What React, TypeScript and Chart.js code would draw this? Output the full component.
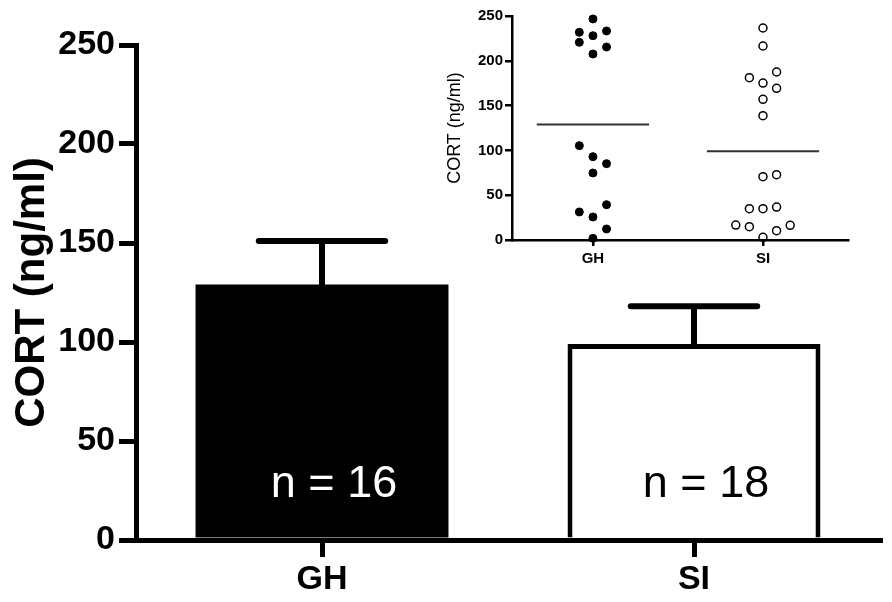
import React, { useEffect, useRef } from 'react'
import { Chart, registerables } from 'chart.js'

Chart.register(...registerables)

// groups and summary values
const categories = ['GH', 'SI']
const meanValues = [129, 99]
const semValues = [22, 19]
const yTicks = [0, 50, 100, 150, 200, 250]

// individual animals (inset), with the dot column each one sits in
const ghValues = [246.7, 231.8, 228, 233.3, 220.6, 215.4, 207.6, 105.3, 93, 85.2, 74.8, 39.4, 31.3, 25.7, 12.3, 1.9]
const ghSlots = [0, -1, 0, 1, -1, 1, 0, -1, 0, 1, 0, 1, -1, 0, 1, 0]
const siValues = [236.6, 216.5, 181.2, 187.5, 175.2, 169.3, 157, 138.8, 70.7, 72.9, 35, 35, 36.8, 16.7, 14.9, 16.4, 10.4, 3]
const siSlots = [0, 0, -1, 1, 0, 1, 0, 0, 0, 1, -1, 0, 1, -2, -1, 2, 1, 0]

const FONT = "'Liberation Sans', Arial, Helvetica, sans-serif"
const SLOT = 0.08
const MEAN_HALF = 0.33

const groups = [ghValues, siValues]

const errorBars = {
	id: 'errorBars',
	afterDatasetsDraw(chart: any) {
		const meta = chart.getDatasetMeta(0)
		const y = chart.scales.y
		const ctx = chart.ctx
		ctx.save()
		ctx.strokeStyle = '#000'
		ctx.lineWidth = 6
		ctx.lineCap = 'round'
		meta.data.forEach((bar: any, i: number) => {
			const base = y.getPixelForValue(meanValues[i])
			const top = y.getPixelForValue(meanValues[i] + semValues[i])
			const half = bar.width / 4
			ctx.beginPath()
			ctx.moveTo(bar.x, base)
			ctx.lineTo(bar.x, top)
			ctx.moveTo(bar.x - half, top)
			ctx.lineTo(bar.x + half, top)
			ctx.stroke()
		})
		ctx.restore()
	},
}

const countLabels = {
	id: 'countLabels',
	afterDatasetsDraw(chart: any) {
		const meta = chart.getDatasetMeta(0)
		const ctx = chart.ctx
		ctx.save()
		ctx.font = `45px ${FONT}`
		ctx.textAlign = 'center'
		ctx.textBaseline = 'middle'
		meta.data.forEach((bar: any, i: number) => {
			ctx.fillStyle = i === 0 ? '#fff' : '#000'
			ctx.fillText(`n = ${groups[i].length}`, bar.x + 12, chart.chartArea.bottom - 55)
		})
		ctx.restore()
	},
}

const MainBars: React.FC = () => {
	const chartRef = useRef<HTMLCanvasElement>(null)

	useEffect(() => {
		if (!chartRef.current) return
		const bold34 = { family: FONT, size: 34, weight: 'bold' as const }
		const chart = new Chart(chartRef.current, {
			type: 'bar',
			data: {
				labels: categories,
				datasets: [
					{
						data: meanValues,
						backgroundColor: ['#000', '#fff'],
						borderColor: '#000',
						borderWidth: [0, 5],
						barPercentage: 0.68,
						categoryPercentage: 1,
					},
				],
			},
			options: {
				responsive: false,
				animation: false,
				layout: { padding: { top: 45, right: 12, left: 0, bottom: 0 } },
				plugins: { legend: { display: false }, tooltip: { enabled: false } },
				scales: {
					x: {
						offset: true,
						grid: { offset: false, drawOnChartArea: false, tickLength: 17, lineWidth: 5, color: '#000' },
						border: { width: 5, color: '#000', z: 1 },
						ticks: { font: bold34, color: '#000', padding: 2, maxRotation: 0 },
						afterFit: (s: any) => {
							s.height = 62
						},
					},
					y: {
						min: yTicks[0],
						max: yTicks[yTicks.length - 1],
						afterBuildTicks: (s: any) => {
							s.ticks = yTicks.map((v) => ({ value: v }))
						},
						ticks: { font: bold34, color: '#000', padding: 4 },
						grid: { drawOnChartArea: false, tickLength: 17, lineWidth: 5, color: '#000' },
						border: { width: 5, color: '#000' },
						title: {
							display: true,
							text: 'CORT (ng/ml)',
							font: { family: FONT, size: 42, weight: 'bold' },
							color: '#000',
							padding: { top: 7, bottom: 0 },
						},
						afterFit: (s: any) => {
							s.width = 136
						},
					},
				},
			},
			plugins: [errorBars, countLabels],
		})
		return () => {
			chart.destroy()
		}
	}, [])

	return <canvas ref={chartRef} width={892} height={602} style={{ display: 'block' }} />
}

const InsetScatter: React.FC = () => {
	const chartRef = useRef<HTMLCanvasElement>(null)

	useEffect(() => {
		if (!chartRef.current) return
		const bold15 = { family: FONT, size: 15, weight: 'bold' as const }
		const meanLine = (i: number) => ({
			type: 'line' as const,
			data: [
				{ x: i + 1 - MEAN_HALF, y: meanValues[i] },
				{ x: i + 1 + MEAN_HALF, y: meanValues[i] },
			],
			borderColor: '#333',
			borderWidth: 2,
			pointRadius: 0,
			showLine: true,
		})
		const chart = new Chart(chartRef.current, {
			type: 'scatter',
			data: {
				datasets: [
					{
						data: ghValues.map((v, i) => ({ x: 1 + ghSlots[i] * SLOT, y: v })),
						pointRadius: 4,
						backgroundColor: '#000',
						borderColor: '#000',
						borderWidth: 1,
						clip: false,
					},
					{
						data: siValues.map((v, i) => ({ x: 2 + siSlots[i] * SLOT, y: v })),
						pointRadius: 4,
						backgroundColor: '#fff',
						borderColor: '#000',
						borderWidth: 1.5,
						clip: false,
					},
					meanLine(0) as any,
					meanLine(1) as any,
				],
			},
			options: {
				responsive: false,
				animation: false,
				layout: { padding: { top: 16, right: 22, left: 0, bottom: 0 } },
				plugins: { legend: { display: false }, tooltip: { enabled: false } },
				scales: {
					x: {
						type: 'linear',
						min: 0.524,
						max: 2.5,
						afterBuildTicks: (s: any) => {
							s.ticks = categories.map((_, i) => ({ value: i + 1 }))
						},
						ticks: {
							font: bold15,
							color: '#000',
							padding: 4,
							autoSkip: false,
							maxRotation: 0,
							callback: (v: any) => categories[Math.round(Number(v)) - 1],
						},
						grid: { drawOnChartArea: false, tickLength: 6, lineWidth: 2.5, color: '#000' },
						border: { width: 2.5, color: '#000', z: 1 },
						afterFit: (s: any) => {
							s.height = 35
						},
					},
					y: {
						min: yTicks[0],
						max: yTicks[yTicks.length - 1],
						afterBuildTicks: (s: any) => {
							s.ticks = yTicks.map((v) => ({ value: v }))
						},
						ticks: { font: bold15, color: '#000', padding: 2 },
						grid: { drawOnChartArea: false, tickLength: 7, lineWidth: 2.5, color: '#000' },
						border: { width: 2.5, color: '#000' },
						title: {
							display: true,
							text: 'CORT (ng/ml)',
							font: { family: FONT, size: 18 },
							color: '#000',
							padding: { top: 14, bottom: 0 },
						},
						afterFit: (s: any) => {
							s.width = 82
						},
					},
				},
			},
		})
		return () => {
			chart.destroy()
		}
	}, [])

	return <canvas ref={chartRef} width={440} height={275} style={{ display: 'block' }} />
}

const App: React.FC = () => (
	<div style={{ position: 'absolute', left: 0, top: 0, width: 892, height: 602, background: '#fff' }}>
		<MainBars />
		<div style={{ position: 'absolute', left: 430, top: 0 }}>
			<InsetScatter />
		</div>
	</div>
)

export default App
